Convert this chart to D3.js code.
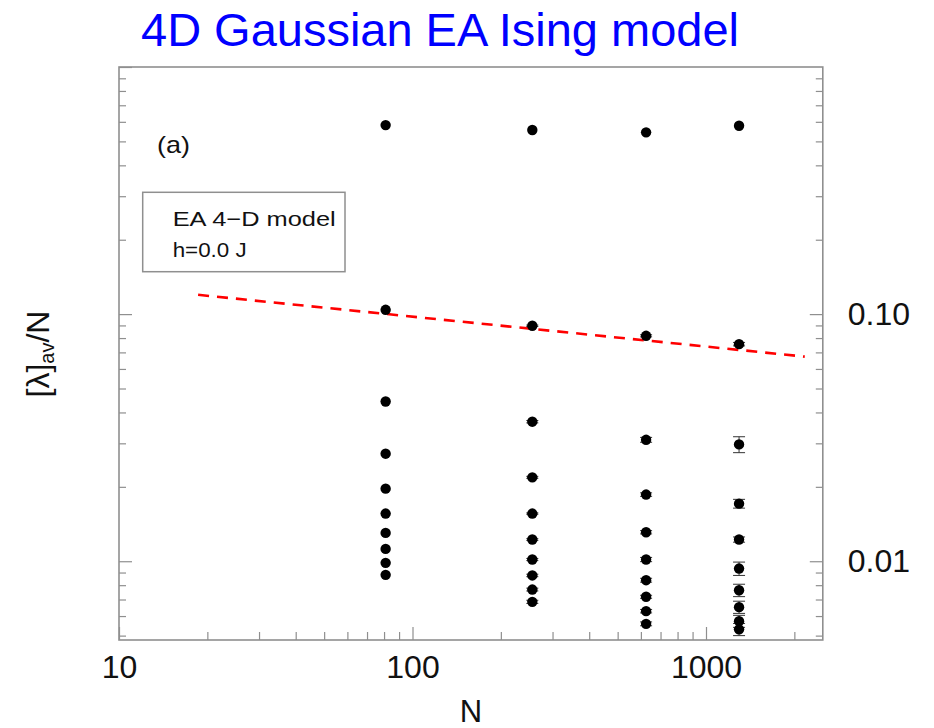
<!DOCTYPE html>
<html>
<head>
<meta charset="utf-8">
<script src="https://cdn.jsdelivr.net/npm/d3@7"></script>
<style>
  body { margin: 0; background: #fff; }
  svg { display: block; }
</style>
</head>
<body>
<svg id="chart" width="934" height="728"></svg>
<script>
// Lattice sizes N = L^4 for L = 3, 4, 5, 6
const sizesN = [81, 256, 625, 1296];

// Disorder-averaged eigenvalues [lambda]_av / N, largest first
const lambdaN81   = [0.582, 0.1041, 0.0443, 0.02724, 0.01967, 0.01559, 0.01302, 0.01122, 0.00985, 0.00881];
const lambdaN256  = [0.556, 0.0897, 0.0367, 0.02185, 0.01559, 0.01224, 0.01016, 0.00876, 0.00768, 0.00685];
const lambdaN625  = [0.544, 0.0817, 0.0310, 0.01861, 0.01310, 0.01016, 0.00838, 0.00718, 0.00628, 0.00558];
const lambdaN1296 = [0.5785, 0.0756, 0.0297, 0.0171, 0.01224, 0.00934, 0.00763, 0.00652, 0.00572, 0.0053];

// Statistical errors (one sigma)
const errN81   = [0, 0, 0, 0, 0, 0, 0, 0, 0, 0];
const errN256  = [0, 0.0006, 0.0004, 0.0002, 0.0001, 0.0001, 0.0001, 0.0001, 0.0001, 0.0001];
const errN625  = [0, 0.0008, 0.0007, 0.0003, 0.0002, 0.0002, 0.00015, 0.0001, 0.0001, 0.0001];
const errN1296 = [0, 0.0012, 0.0022, 0.0007, 0.0003, 0.00058, 0.00044, 0.00037, 0.00032, 0.0003];

// Power-law fit of the second eigenvalue
const fitN = [18.6, 2170];
const fitLambda = [0.1197, 0.0673];

// Axis ticks and labels
const xTickValues = [10, 100, 1000];
const xTickLabels = ["10", "100", "1000"];
const yTickValues = [0.1, 0.01];
const yTickLabels = ["0.10", "0.01"];

const titleText = "4D Gaussian EA Ising model";
const legendLines = ["EA 4\u2212D model", "h=0.0 J"];
const panelTag = "(a)";

// ---------------------------------------------------------------
const FONT = "'Liberation Sans', Arial, Helvetica, sans-serif";
const frame = { left: 119, right: 822.8, top: 67, bottom: 640 };
const AXIS_GRAY = "#8f8f8f";

const svg = d3.select("#chart");

const x = d3.scaleLog().domain([10, 2500]).range([frame.left, frame.right]);
const y = d3.scaleLog().domain([0.0048, 1]).range([frame.bottom, frame.top]);

const isMajor = v => Math.abs(Math.log10(v) - Math.round(Math.log10(v))) < 1e-9;

// Title
svg.append("text")
  .attr("x", 141).attr("y", 46)
  .attr("font-family", FONT).attr("font-size", 46)
  .attr("fill", "#0000ff")
  .attr("textLength", 598).attr("lengthAdjust", "spacingAndGlyphs")
  .text(titleText);

// Plot frame
svg.append("rect")
  .attr("x", frame.left).attr("y", frame.top)
  .attr("width", frame.right - frame.left).attr("height", frame.bottom - frame.top)
  .attr("fill", "none").attr("stroke", AXIS_GRAY).attr("stroke-width", 1.6);

function styleAxis(g) {
  g.select(".domain").remove();
  g.selectAll(".tick line").attr("stroke", AXIS_GRAY).attr("stroke-width", 1.2);
  g.selectAll(".tick text").attr("font-family", FONT).attr("fill", "#111");
}

// x ticks (inward, along the bottom)
const xAllTicks = x.ticks().filter(v => v >= 10 && v <= 2500);
const xMinor = xAllTicks.filter(v => !isMajor(v));
svg.append("g")
  .attr("transform", `translate(0,${frame.bottom})`)
  .call(d3.axisBottom(x).tickValues(xMinor).tickSize(-8).tickFormat(""))
  .call(styleAxis);
svg.append("g")
  .attr("transform", `translate(0,${frame.bottom})`)
  .call(d3.axisBottom(x).tickValues(xTickValues).tickSize(-13).tickPadding(15)
        .tickFormat((d, i) => xTickLabels[i]))
  .call(styleAxis)
  .call(g => g.selectAll(".tick text").attr("font-size", 32));

// y ticks (inward, both sides)
const yAllTicks = y.ticks().filter(v => v >= 0.0048 && v <= 1);
const yMinor = yAllTicks.filter(v => !isMajor(v));
const yMajor = yAllTicks.filter(v => isMajor(v));
svg.append("g")
  .attr("transform", `translate(${frame.left},0)`)
  .call(d3.axisLeft(y).tickValues(yMinor).tickSize(-7).tickFormat(""))
  .call(styleAxis);
svg.append("g")
  .attr("transform", `translate(${frame.left},0)`)
  .call(d3.axisLeft(y).tickValues(yMajor).tickSize(-13).tickFormat(""))
  .call(styleAxis);
svg.append("g")
  .attr("transform", `translate(${frame.right},0)`)
  .call(d3.axisRight(y).tickValues(yMinor).tickSize(-7).tickFormat(""))
  .call(styleAxis);
svg.append("g")
  .attr("transform", `translate(${frame.right},0)`)
  .call(d3.axisRight(y).tickValues(yTickValues).tickSize(-13).tickPadding(25)
        .tickFormat((d, i) => yTickLabels[i]))
  .call(styleAxis)
  .call(g => g.selectAll(".tick text").attr("font-size", 32));

// Axis titles
svg.append("text")
  .attr("x", (frame.left + frame.right) / 2).attr("y", 722)
  .attr("text-anchor", "middle")
  .attr("font-family", FONT).attr("font-size", 31).attr("fill", "#111")
  .text("N");

const yLabel = svg.append("text")
  .attr("transform", "translate(49,354) rotate(-90)")
  .attr("text-anchor", "middle")
  .attr("font-family", FONT).attr("font-size", 32).attr("fill", "#111");
yLabel.append("tspan").text("[\u03bb]");
yLabel.append("tspan").attr("font-size", 20).attr("dy", 5).text("av");
yLabel.append("tspan").attr("dy", -5).text("/N");

// Panel tag and legend box
svg.append("text")
  .attr("x", 157).attr("y", 153)
  .attr("font-family", FONT).attr("font-size", 24).attr("fill", "#111")
  .attr("textLength", 33).attr("lengthAdjust", "spacingAndGlyphs")
  .text(panelTag);

svg.append("rect")
  .attr("x", 142.7).attr("y", 192.3).attr("width", 202.3).attr("height", 79.4)
  .attr("fill", "#fff").attr("stroke", AXIS_GRAY).attr("stroke-width", 1.5);
svg.append("text")
  .attr("x", 172.7).attr("y", 226)
  .attr("font-family", FONT).attr("font-size", 21).attr("fill", "#111")
  .attr("textLength", 163).attr("lengthAdjust", "spacingAndGlyphs")
  .text(legendLines[0]);
svg.append("text")
  .attr("x", 172.7).attr("y", 257)
  .attr("font-family", FONT).attr("font-size", 21).attr("fill", "#111")
  .attr("textLength", 74).attr("lengthAdjust", "spacingAndGlyphs")
  .text(legendLines[1]);

// Clip marks to the plotting area
svg.append("clipPath").attr("id", "plot-clip")
  .append("rect")
  .attr("x", frame.left).attr("y", frame.top)
  .attr("width", frame.right - frame.left).attr("height", frame.bottom - frame.top);

const plot = svg.append("g").attr("clip-path", "url(#plot-clip)");

// Fit line
const fitData = fitN.map((n, i) => ({ n, v: fitLambda[i] }));
plot.append("path")
  .datum(fitData)
  .attr("d", d3.line().x(d => x(d.n)).y(d => y(d.v)))
  .attr("fill", "none")
  .attr("stroke", "#ff0000")
  .attr("stroke-width", 2.6)
  .attr("stroke-dasharray", "11,8");

// Eigenvalue points with error bars
const columns = [lambdaN81, lambdaN256, lambdaN625, lambdaN1296];
const errors = [errN81, errN256, errN625, errN1296];
const points = [];
columns.forEach((vals, c) => {
  vals.forEach((v, k) => points.push({ n: sizesN[c], v, e: errors[c][k] }));
});

const bars = plot.append("g")
  .attr("stroke", "#333").attr("stroke-width", 1);
const withErr = points.filter(p => p.e > 0);
bars.selectAll("line.err").data(withErr).join("line")
  .attr("class", "err")
  .attr("x1", d => x(d.n)).attr("x2", d => x(d.n))
  .attr("y1", d => y(d.v + d.e)).attr("y2", d => y(d.v - d.e));
bars.selectAll("line.cap-hi").data(withErr).join("line")
  .attr("class", "cap-hi")
  .attr("x1", d => x(d.n) - 6).attr("x2", d => x(d.n) + 6)
  .attr("y1", d => y(d.v + d.e)).attr("y2", d => y(d.v + d.e));
bars.selectAll("line.cap-lo").data(withErr).join("line")
  .attr("class", "cap-lo")
  .attr("x1", d => x(d.n) - 6).attr("x2", d => x(d.n) + 6)
  .attr("y1", d => y(d.v - d.e)).attr("y2", d => y(d.v - d.e));

plot.selectAll("circle.pt").data(points).join("circle")
  .attr("class", "pt")
  .attr("cx", d => x(d.n)).attr("cy", d => y(d.v))
  .attr("r", 5.2)
  .attr("fill", "#000");
</script>
</body>
</html>
